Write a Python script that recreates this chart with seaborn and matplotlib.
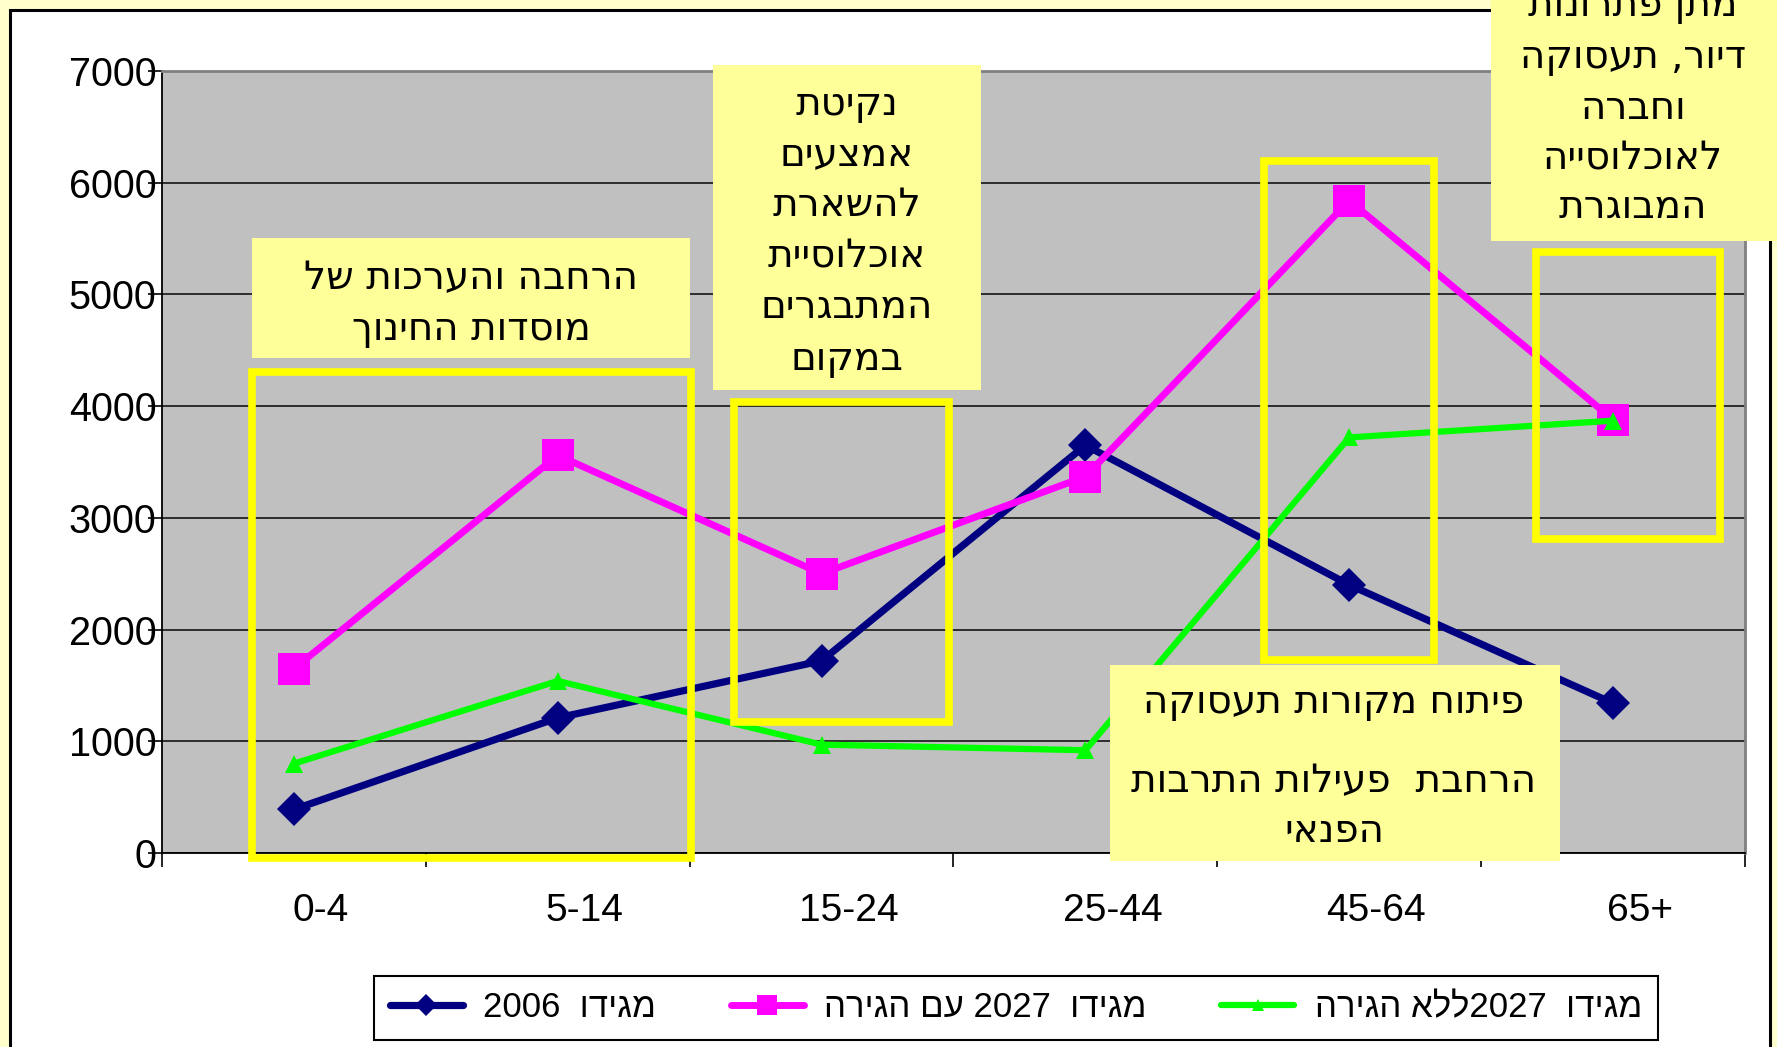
import re
import numpy as np
import pandas as pd
import matplotlib
matplotlib.use("Agg")
import matplotlib.pyplot as plt
from matplotlib.patches import Rectangle
from matplotlib.ticker import FixedLocator, NullFormatter
from matplotlib.transforms import ScaledTranslation
import seaborn as sns

# ---------------- data ----------------
age_groups = ["0-4", "5-14", "15-24", "25-44", "45-64", "65+"]
megido_2006 = [390, 1210, 1720, 3650, 2400, 1340]
megido_2027_with_migration = [1650, 3560, 2500, 3370, 5840, 3880]
megido_2027_no_migration = [800, 1540, 970, 920, 3720, 3870]
series_names = ["מגידו  2006", "מגידו  2027 עם הגירה", "מגידו  2027ללא הגירה"]
y_ticks = [0, 1000, 2000, 3000, 4000, 5000, 6000, 7000]

box_edu = ["הרחבה והערכות של", "מוסדות החינוך"]
box_youth = ["נקיטת", "אמצעים", "להשארת", "אוכלוסיית", "המתבגרים", "במקום"]
box_elderly = ["מתן פתרונות", "דיור, תעסוקה", "וחברה", "לאוכלוסייה", "המבוגרת"]
box_work = ["פיתוח מקורות תעסוקה", "הרחבת  פעילות התרבות", "הפנאי"]


def vis(s):
    """Convert logical-order RTL text to visual order for matplotlib."""
    tokens = re.findall(r"[0-9A-Za-z.+\-]+|[^0-9A-Za-z.+\-]", s)
    return "".join(reversed(tokens))


sns.set_theme(style="white")
plt.rcParams["font.family"] = ["Liberation Sans", "DejaVu Sans"]
plt.rcParams["text.color"] = "black"
plt.rcParams["xtick.labelcolor"] = "black"
plt.rcParams["ytick.labelcolor"] = "black"

W, H = 1777, 1047
fig = plt.figure(figsize=(W / 100, H / 100), dpi=100)
fig.patch.set_facecolor("#FFFFCC")


def fx(px):
    return px / W


def fy(py):
    return 1 - py / H


# white chart frame
fig.add_artist(Rectangle((fx(10), fy(1100)), fx(1770) - fx(10), fy(10) - fy(1100),
                         transform=fig.transFigure, facecolor="white",
                         edgecolor="black", lw=2.2, zorder=-5))

ax = fig.add_axes([fx(162), fy(853), fx(1745) - fx(162), fy(71) - fy(853)])
ax.set_facecolor("#C0C0C0")

df = pd.DataFrame({
    "age": age_groups * 3,
    "value": megido_2006 + megido_2027_with_migration + megido_2027_no_migration,
    "series": [series_names[0]] * 6 + [series_names[1]] * 6 + [series_names[2]] * 6,
})

styles = [
    dict(color="#000080", marker="D", markersize=17, lw=5.2),
    dict(color="#FF00FF", marker="s", markersize=23, lw=5.0),
    dict(color="#00FF00", marker="^", markersize=13, lw=4.5),
]
for name, st in zip(series_names, styles):
    sub = df[df["series"] == name]
    sns.lineplot(data=sub, x="age", y="value", ax=ax, sort=False,
                 color=st["color"], marker=st["marker"], markersize=st["markersize"],
                 lw=st["lw"], markeredgewidth=0, markeredgecolor=st["color"],
                 label=vis(name), zorder=3, legend=False)

ax.set_xlim(-0.5, 5.5)
ax.set_ylim(0, 7000)
ax.set_yticks(y_ticks)
ax.set_yticklabels([str(t) for t in y_ticks])
ax.yaxis.grid(True, color="#222222", lw=1.3)
ax.set_axisbelow(True)
ax.set_xlabel("")
ax.set_ylabel("")

ax.xaxis.set_major_locator(FixedLocator(np.arange(-0.5, 6.0, 1.0)))
ax.xaxis.set_major_formatter(NullFormatter())
ax.set_xticks(np.arange(len(age_groups)), minor=True)
ax.set_xticklabels(age_groups, minor=True)
ax.tick_params(axis="x", which="major", length=10, width=1.2, color="black", direction="out", bottom=True)
ax.tick_params(axis="x", which="minor", length=0, pad=29, labelsize=28, labelcolor="black")
ax.tick_params(axis="y", which="major", length=10, width=1.2, color="black", direction="out",
               left=True, pad=-6, labelsize=28.5, labelcolor="black")
off = ScaledTranslation(27 / 100, 0, fig.dpi_scale_trans)
for lab in ax.xaxis.get_minorticklabels():
    lab.set_transform(lab.get_transform() + off)

for side in ["left", "bottom"]:
    ax.spines[side].set_color("black")
    ax.spines[side].set_linewidth(1.3)
for side in ["top", "right"]:
    ax.spines[side].set_color("#808080")
    ax.spines[side].set_linewidth(2)

# legend
handles, labels = ax.get_legend_handles_labels()
leg = fig.legend(handles, labels, loc="lower left",
                 bbox_to_anchor=(fx(374), fy(1040), fx(1658) - fx(374), fy(963) - fy(1040)),
                 mode="expand", ncol=3, fontsize=25, frameon=True, fancybox=False,
                 edgecolor="black", facecolor="white", framealpha=1,
                 handlelength=2.1, handletextpad=0.6, markerscale=0.65,
                 borderaxespad=0, borderpad=0.45, labelcolor="black")
leg.get_frame().set_linewidth(1.5)
leg.set_zorder(5)

# yellow outline rectangles
for (x0, y0, x1, y1) in [(252, 372, 691, 858), (734, 402, 949, 722),
                         (1264, 161, 1434, 660), (1536, 252, 1720, 539)]:
    fig.add_artist(Rectangle((fx(x0), fy(y1)), fx(x1) - fx(x0), fy(y0) - fy(y1),
                             transform=fig.transFigure, fill=False,
                             edgecolor="#FFFF00", lw=5.5, zorder=6))


def note_box(x0, y0, x1, y1):
    fig.add_artist(Rectangle((fx(x0), fy(y1)), fx(x1) - fx(x0), fy(y0) - fy(y1),
                             transform=fig.transFigure, facecolor="#FFFF99",
                             edgecolor="none", zorder=7))


def note_text(cx, cy, s):
    fig.text(fx(cx), fy(cy), vis(s), ha="center", va="center", fontsize=28,
             family=["DejaVu Sans"], color="black", zorder=8)


note_box(252, 238, 690, 358)
for s, y in zip(box_edu, [278, 329]):
    note_text(471, y, s)

note_box(713, 65, 981, 390)
for s, y in zip(box_youth, [104, 154, 205, 256, 307, 359]):
    note_text(847, y, s)

note_box(1491, -50, 1777, 241)
for s, y in zip(box_elderly, [5, 57, 108, 158, 207]):
    note_text(1633, y, s)

note_box(1110, 665, 1560, 861)
for s, y in zip(box_work, [702, 781, 831]):
    note_text(1334, y, s)

fig.savefig("out.png", dpi=100, facecolor=fig.get_facecolor())
